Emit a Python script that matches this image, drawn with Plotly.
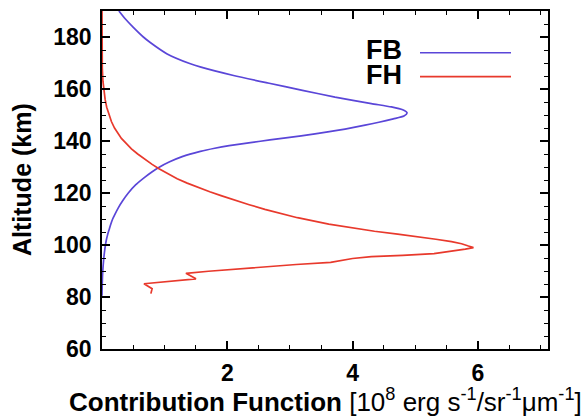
import plotly.graph_objects as go

# FB (blue) contribution function: altitude (km) and value (1e8 erg s-1 sr-1 um-1)
fb_alt = [80.5, 82, 85, 88, 91, 94, 97, 100, 102, 104, 106, 108, 110, 112, 114.3, 117, 120,
          123.2, 126, 128, 130, 132, 134, 136, 137.2, 138.2, 139.4, 140.4, 142, 143.6, 144.6,
          146.1, 147.2, 148.5, 149.6, 150.8, 152, 153.1, 154.4, 156.9, 159.5, 162.3, 165.2,
          168.4, 169.8, 173.5, 177.9, 180, 183.7, 187, 190]
fb_val = [0.0, 0.001, 0.004, 0.008, 0.015, 0.025, 0.038, 0.055, 0.07, 0.09, 0.115, 0.14, 0.17,
          0.21, 0.26, 0.33, 0.42, 0.54, 0.68, 0.79, 0.92, 1.08, 1.28, 1.57, 1.8, 2.03, 2.37,
          2.68, 3.18, 3.63, 3.88, 4.2, 4.42, 4.65, 4.82, 4.87, 4.8, 4.62, 4.3, 3.72, 3.2, 2.65,
          2.1, 1.58, 1.4, 1.04, 0.77, 0.66, 0.5, 0.37, 0.27]

# FH (red) contribution function
fh_alt = [190, 175, 168, 163, 159, 156, 153, 150, 147.5, 145, 143, 141, 139, 137, 135, 133, 131,
          129.3, 127.5, 125.5, 123.8, 122, 120.5, 119, 117, 115.5, 113.7, 112, 110.5, 108, 106.5,
          105.3, 104.2, 103.2, 102.2, 101.3, 100.5, 99.6, 99.0, 98.4, 97.5, 96.7, 96.0, 95.5,
          94.8, 94.0, 93.3, 92.5, 91.7, 90.8, 89.9, 89.1, 87.0, 85.1, 83.2, 81.3]
fh_val = [0.0, 0.0, 0.005, 0.015, 0.03, 0.05, 0.075, 0.11, 0.15, 0.2, 0.25, 0.31, 0.39, 0.47, 0.57,
          0.68, 0.8, 0.91, 1.04, 1.2, 1.36, 1.55, 1.72, 1.9, 2.14, 2.35, 2.6, 2.86, 3.12, 3.62,
          4.0, 4.35, 4.72, 5.05, 5.33, 5.58, 5.74, 5.85, 5.93, 5.8, 5.55, 5.3, 4.8, 4.3,
          4.0, 3.8, 3.65, 3.1, 2.62, 2.1, 1.7, 1.34, 1.5, 0.67, 0.8, 0.78]

x_ticks = [2, 4, 6]
y_ticks = [60, 80, 100, 120, 140, 160, 180]

BLUE = "#5a46d8"
RED = "#e8392c"
FONT = "Liberation Sans"

fig = go.Figure()
fig.add_trace(go.Scatter(x=fb_val, y=fb_alt, mode="lines", name="FB",
                         line=dict(color=BLUE, width=1.7, shape="spline", smoothing=0.6)))
fig.add_trace(go.Scatter(x=fh_val, y=fh_alt, mode="lines", name="FH",
                         line=dict(color=RED, width=1.7)))

W, H = 587, 418
L, R, T, B = 102, 39, 9, 69
pw, ph = W - L - R, H - T - B

def px(x):
    return (x - L) / pw

def py(y):
    return (H - B - y) / ph

axis_common = dict(showline=True, linecolor="black", linewidth=1.5, mirror="ticks",
                   ticks="inside", ticklen=8, tickwidth=1.5, tickcolor="black",
                   showgrid=False, zeroline=False,
                   tickfont=dict(family=FONT, size=23, color="black", weight="bold"))

fig.update_layout(
    width=W, height=H,
    margin=dict(l=L, r=R, t=T, b=B),
    paper_bgcolor="white", plot_bgcolor="white",
    showlegend=False,
    xaxis=dict(range=[0, 7.12], tickvals=x_ticks,
               minor=dict(dtick=0.5, ticks="inside", ticklen=4, tickwidth=1.2, tickcolor="black"),
               ticklabelstandoff=3, **axis_common),
    yaxis=dict(range=[60, 190], tickvals=y_ticks,
               minor=dict(dtick=5, ticks="inside", ticklen=4, tickwidth=1.2, tickcolor="black"),
               ticklabelstandoff=4, **axis_common),
)

# axis titles
fig.add_annotation(xref="paper", yref="paper", x=0.5, y=py(401), yanchor="middle",
                   xanchor="center", showarrow=False,
                   text="<b>Contribution Function</b> [10<sup>8</sup> erg s<sup>-1</sup>/sr<sup>-1</sup>\u03bcm<sup>-1</sup>]",
                   font=dict(family=FONT, size=26, color="black"))
fig.add_annotation(xref="paper", yref="paper", x=px(22), y=py(179), xanchor="center",
                   yanchor="middle", showarrow=False, textangle=-90,
                   text="<b>Altitude (km)</b>", font=dict(family=FONT, size=25, color="black"))

# legend (text left, line right)
for label, color, ytext, yline in [("FB", BLUE, 48, 51), ("FH", RED, 73, 75)]:
    fig.add_annotation(xref="paper", yref="paper", x=px(404), y=py(ytext), xanchor="right",
                       yanchor="middle", showarrow=False, text=f"<b>{label}</b>",
                       font=dict(family=FONT, size=27, color="black"))
    fig.add_shape(type="line", xref="paper", yref="paper", x0=px(420), x1=px(511),
                  y0=py(yline), y1=py(yline), line=dict(color=color, width=1.7))

fig.write_html("out.html")
